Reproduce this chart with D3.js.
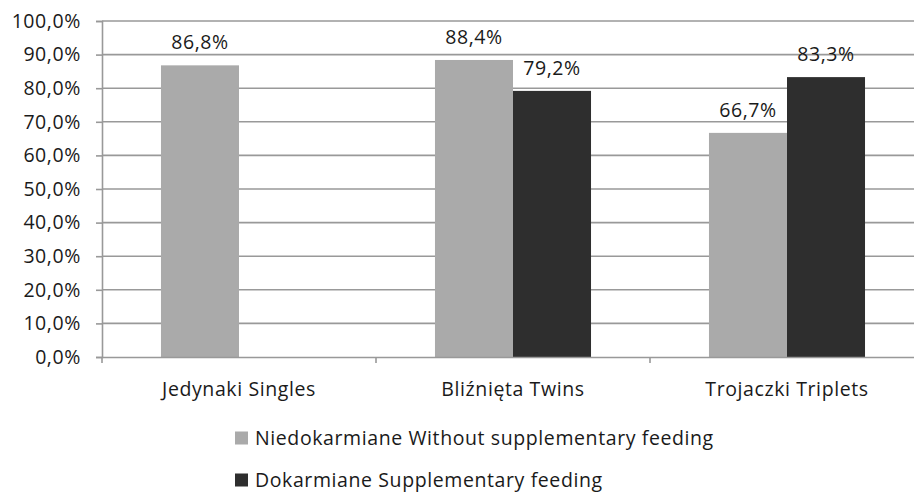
<!DOCTYPE html>
<html><head><meta charset="utf-8">
<script src="https://cdn.jsdelivr.net/npm/d3@7"></script>
<style>body{margin:0;background:#fff}svg{display:block}text{font-family:"Open Sans",sans-serif;fill:#1a1a1a;letter-spacing:0.6px}</style>
</head><body><svg id="c" width="914" height="496"></svg>
<script>
const categories = ["Jedynaki Singles", "Bliźnięta Twins", "Trojaczki Triplets"];
const seriesNames = ["Niedokarmiane Without supplementary feeding", "Dokarmiane Supplementary feeding"];
const withoutFeeding = [86.8, 88.4, 66.7];
const withFeeding = [null, 79.2, 83.3];
const yTicks = [0,10,20,30,40,50,60,70,80,90,100];
const colors = ["#aaaaaa", "#2e2e2e"];

const svg = d3.select("#c");
const x0 = 102, x1 = 924, yTop = 21, yBot = 357;
const x = d3.scaleBand().domain(categories).range([x0, x1]).paddingInner(0).paddingOuter(0);
const xs = d3.scaleBand().domain([0,1]).range([0, x.bandwidth()]).paddingInner(0).paddingOuter(0.756);
const y = d3.scaleLinear().domain([0,100]).range([yBot, yTop]);
const fmt = v => d3.format(".1f")(v).replace(".", ",") + "%";
const fs = 19.5;
const ff = "'Open Sans',sans-serif";

// gridlines
svg.append("g").selectAll("line").data(yTicks.filter(d=>d>0)).join("line")
  .attr("x1", x0).attr("x2", x1).attr("y1", d=>y(d)).attr("y2", d=>y(d))
  .attr("stroke", "#999").attr("stroke-width", 1.6);

// bars
const series = [withoutFeeding, withFeeding];
series.forEach((vals, si) => {
  const data = categories.map((c,i)=>({c, v: vals[i]})).filter(d=>d.v!=null);
  svg.append("g").selectAll("rect").data(data).join("rect")
    .attr("x", d=>x(d.c)+xs(si)).attr("width", xs.bandwidth())
    .attr("y", d=>y(d.v)).attr("height", d=>yBot-y(d.v))
    .attr("fill", colors[si]);
  svg.append("g").selectAll("text").data(data).join("text")
    .attr("x", d=>x(d.c)+xs(si)+xs.bandwidth()/2).attr("y", d=>y(d.v)-16)
    .attr("text-anchor","middle").attr("font-size", fs).text(d=>fmt(d.v));
});

// y axis
const yAxis = d3.axisLeft(y).tickValues(yTicks).tickSize(6).tickFormat(d=>fmt(d));
const gy = svg.append("g").attr("transform", `translate(${x0},0)`).call(yAxis);
gy.select(".domain").attr("stroke","#999").attr("stroke-width",1.6);
gy.selectAll(".tick line").attr("stroke","#999").attr("stroke-width",1.6);
gy.selectAll(".tick text").attr("x",-21).attr("font-size", fs).attr("font-family",ff).attr("fill","#1a1a1a");

// x axis
const xAxis = d3.axisBottom(x).tickSize(0).tickSizeOuter(0);
const gx = svg.append("g").attr("transform", `translate(0,${yBot})`).call(xAxis);
gx.select(".domain").attr("stroke","#999").attr("stroke-width",1.6);
gx.selectAll(".tick text").attr("dy", 0).attr("y", 39).attr("font-size", fs).attr("font-family",ff).attr("fill","#1a1a1a");
// category boundary ticks
svg.append("g").selectAll("line").data(categories).join("line")
  .attr("x1", d=>x(d)).attr("x2", d=>x(d)).attr("y1", yBot).attr("y2", yBot+6)
  .attr("stroke","#999").attr("stroke-width",1.6);

// legend
const lg = svg.append("g").selectAll("g").data(seriesNames).join("g")
  .attr("transform", (d,i)=>`translate(235,${438 + i*42})`);
lg.append("rect").attr("x",0).attr("y",-6.5).attr("width",13).attr("height",13).attr("fill",(d,i)=>colors[i]);
lg.append("text").attr("x",20).attr("y",0).attr("dy","0.35em").attr("font-size", fs).text(d=>d);
</script></body></html>
